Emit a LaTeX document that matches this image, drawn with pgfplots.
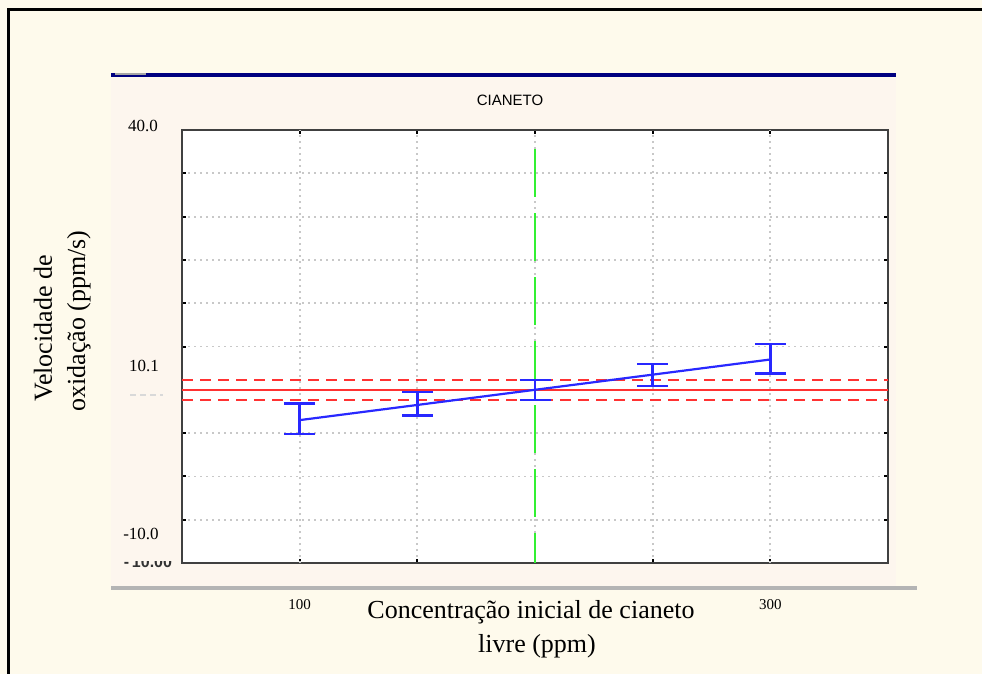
\documentclass[border=0pt]{standalone}
\usepackage{fontspec}
\setmainfont{Liberation Serif}
\newfontfamily\sansf{Liberation Sans}
\usepackage{pgfplots}
\pgfplotsset{compat=1.18}

\definecolor{bgcream}{RGB}{254,250,236}
\definecolor{panel}{RGB}{253,246,238}
\definecolor{barnavy}{RGB}{0,0,128}
\definecolor{barsil}{RGB}{180,180,180}
\definecolor{gridgray}{RGB}{200,200,200}
\definecolor{fitblue}{RGB}{40,40,255}
\definecolor{meanred}{RGB}{255,50,50}
\definecolor{midgreen}{RGB}{50,240,50}

\begin{document}
\begin{tikzpicture}
% frame, panel and bars, drawn in pixel units (0.5pt each, y downward)
\begin{scope}[x=0.5pt,y=-0.5pt]
  \fill[bgcream] (0,0) rectangle (982,674);
  \fill[panel] (111,78) rectangle (896,586);
  \draw[black, line width=1.2pt] (8.5,674) -- (8.5,9.5) -- (982,9.5);
  \fill[barnavy] (111,73) rectangle (896,77.5);
  \fill[gray!70] (115,73) rectangle (146,75);
  \fill[barsil] (111,586) rectangle (917,589.5);
  % title
  \node[font=\sansf\fontsize{7.5}{9}\selectfont] at (510,100) {CIANETO};
  % value labels on the left
  \node[font=\fontsize{8.5}{10}\selectfont] at (143,126) {40.0};
  \node[font=\fontsize{8.5}{10}\selectfont] at (144,366) {10.1};
  \node[font=\fontsize{8.5}{10}\selectfont] at (141,534) {-10.0};
  \draw[black!15, line width=0.6pt, dash pattern=on 3pt off 2pt] (130,395) -- (163,395);
  \begin{scope}
    \clip (110,561) rectangle (181,580);
    \node[font=\sansf\bfseries\fontsize{8}{9}\selectfont, text=black!80] at (148,562) {-\,10.00};
  \end{scope}
  % axis titles
  \node[rotate=90, anchor=base, font=\fontsize{13}{17}\selectfont] at (52,328.5) {Velocidade de};
  \node[rotate=90, anchor=base, font=\fontsize{13}{17}\selectfont] at (85,321) {oxidação (ppm/s)};
  \node[anchor=base, font=\fontsize{13}{17}\selectfont] at (531,618) {Concentração inicial de cianeto};
  \node[anchor=base, font=\fontsize{13}{17}\selectfont] at (537,653) {livre (ppm)};
\end{scope}

\begin{axis}[
  at={(91pt,-281.5pt)}, anchor=south west,
  scale only axis, width=353pt, height=216.5pt,
  xmin=50, xmax=350, ymin=-10, ymax=40,
  xtick={100,150,...,300}, ytick={-5,0,...,35},
  xticklabels={}, yticklabels={},
  extra x ticks={100,300},
  extra x tick labels={100,300},
  extra x tick style={major tick length=0pt,
    xticklabel style={anchor=center, yshift=-21pt, font=\fontsize{7.5}{9}\selectfont}},
  tick align=inside, major tick length=2pt,
  tick style={black, line width=1pt},
  grid=major,
  major grid style={gridgray, line width=0.9pt, dash pattern=on 1pt off 2pt},
  axis background/.style={fill=white},
  axis line style={black!75, line width=1.3pt},
  clip=false,
]
% vertical reference at the central concentration
\addplot[midgreen, line width=1.2pt, dash pattern=on 24pt off 8pt] coordinates {(200,37.8) (200,-10)};
% overall mean with its confidence band
\addplot[meanred, line width=1.2pt] coordinates {(50,10.0) (350,10.0)};
\addplot[meanred, line width=1.2pt, dash pattern=on 5.5pt off 3.5pt] coordinates {(50,11.15) (350,11.15)};
\addplot[meanred, line width=1.2pt, dash pattern=on 5.5pt off 3.5pt] coordinates {(50,8.85) (350,8.85)};
% fitted line
\addplot[fitblue, line width=1.1pt] coordinates {(100,6.5) (300,13.5)};
% intervals at each concentration
\addplot[draw=none, mark=none,
  error bars/.cd, y dir=both, y explicit,
  error bar style={draw=fitblue, line width=1.2pt, solid},
  error mark options={draw=fitblue, line width=1.2pt, mark size=7.75pt, rotate=90}]
  coordinates {
    (100,6.685) +- (0,1.755)
    (150,8.395) +- (0,1.385)
    (200,9.975) +- (0,1.155)
    (250,11.74) +- (0,1.27)
    (300,13.59) +- (0,1.73)
  };
\end{axis}
\pgfresetboundingbox
\path[use as bounding box] (0,0) rectangle (491pt,-337pt);
\end{tikzpicture}
\end{document}
